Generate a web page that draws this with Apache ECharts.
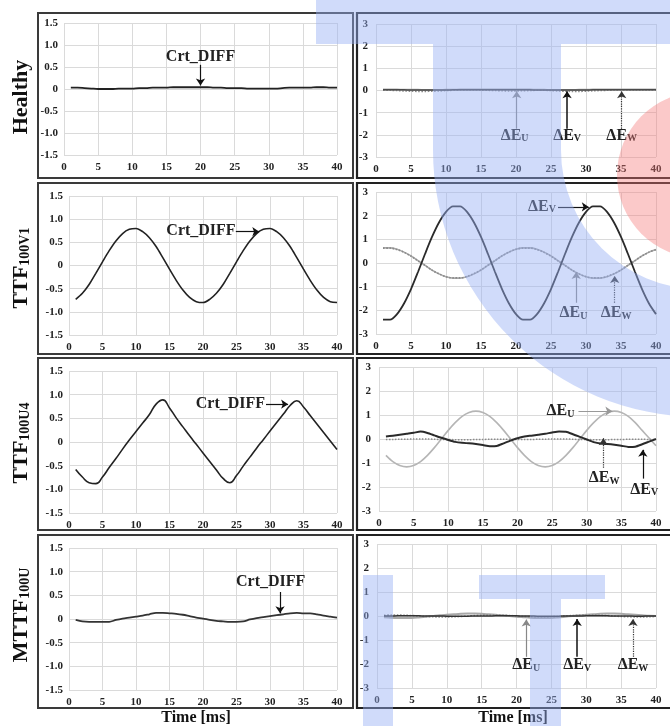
<!DOCTYPE html>
<html><head><meta charset="utf-8">
<script src="https://cdn.jsdelivr.net/npm/echarts@6/dist/echarts.min.js"></script>
<style>html,body{margin:0;padding:0;background:#fff}#c{width:670px;height:726px}</style>
</head><body><div id="c"></div>
<script>
// ---------- DATA ----------
const t = [1,2,3,4,5,6,7,8,9,10,11,12,13,14,15,16,17,18,19,20,21,22,23,24,25,26,27,28,29,30,31,32,33,34,35,36,37,38,39,40];
const xTicks = [0,5,10,15,20,25,30,35,40];
const rowNames = ['Healthy', 'TTF|100V1', 'TTF|100U4', 'MTTF|100U'];

// Healthy
const healthyDiff = [0.03,0.03,0.02,0.01,0.00,0.00,0.00,0.01,0.01,0.01,0.02,0.02,0.03,0.03,0.03,0.04,0.04,0.04,0.04,0.04,0.04,0.03,0.03,0.02,0.02,0.02,0.01,0.01,0.01,0.01,0.01,0.02,0.03,0.03,0.03,0.03,0.04,0.04,0.03,0.03];
const healthyU = [0.04,0.04,0.04,0.03,0.03,0.03,0.02,0.02,0.02,0.03,0.03,0.04,0.04,0.05,0.05,0.05,0.05,0.05,0.05,0.04,0.04,0.04,0.03,0.03,0.02,0.02,0.02,0.02,0.03,0.03,0.04,0.04,0.05,0.05,0.05,0.05,0.05,0.05,0.04,0.04];
const healthyV = [0.03,0.03,0.03,0.03,0.02,0.02,0.02,0.02,0.02,0.02,0.03,0.03,0.03,0.03,0.03,0.03,0.03,0.03,0.03,0.03,0.03,0.03,0.02,0.02,0.02,0.02,0.02,0.02,0.02,0.02,0.03,0.03,0.03,0.03,0.03,0.03,0.03,0.03,0.03,0.03];
const healthyW = [0.02,0.01,0.00,-0.02,-0.03,-0.04,-0.04,-0.03,-0.02,0.00,0.01,0.02,0.03,0.03,0.02,0.01,0.00,-0.01,-0.02,-0.02,-0.01,0.00,0.01,0.01,0.00,-0.02,-0.03,-0.04,-0.04,-0.03,-0.01,0.00,0.01,0.02,0.02,0.02,0.02,0.02,0.02,0.02];

// TTF 100V1
const v1Diff = [-0.73,-0.60,-0.41,-0.17,0.08,0.32,0.53,0.69,0.78,0.80,0.73,0.60,0.41,0.17,-0.08,-0.32,-0.53,-0.69,-0.78,-0.80,-0.73,-0.60,-0.41,-0.17,0.08,0.32,0.53,0.69,0.78,0.80,0.73,0.60,0.41,0.17,-0.08,-0.32,-0.53,-0.69,-0.78,-0.80];
const v1U = [0.64,0.64,0.58,0.46,0.30,0.10,-0.10,-0.30,-0.46,-0.58,-0.64,-0.64,-0.58,-0.46,-0.30,-0.10,0.10,0.30,0.46,0.58,0.64,0.64,0.58,0.46,0.30,0.10,-0.10,-0.30,-0.46,-0.58,-0.64,-0.64,-0.58,-0.46,-0.30,-0.10,0.10,0.30,0.46,0.57];
const v1V = [-2.39,-2.39,-2.16,-1.71,-1.10,-0.38,0.38,1.10,1.71,2.16,2.39,2.39,2.16,1.71,1.10,0.38,-0.38,-1.10,-1.71,-2.16,-2.39,-2.39,-2.16,-1.71,-1.10,-0.38,0.38,1.10,1.71,2.16,2.39,2.39,2.16,1.71,1.10,0.38,-0.38,-1.10,-1.71,-2.16];
const v1W = [0.63,0.63,0.57,0.45,0.29,0.09,-0.10,-0.30,-0.46,-0.58,-0.63,-0.63,-0.57,-0.45,-0.29,-0.09,0.10,0.30,0.46,0.58,0.63,0.63,0.57,0.45,0.29,0.09,-0.10,-0.30,-0.46,-0.58,-0.63,-0.63,-0.57,-0.45,-0.29,-0.09,0.10,0.30,0.46,0.56];

// TTF 100U4
const u4Diff = [-0.58,-0.74,-0.86,-0.88,-0.74,-0.54,-0.35,-0.15,0.04,0.22,0.40,0.58,0.80,0.89,0.72,0.51,0.32,0.13,-0.05,-0.23,-0.41,-0.59,-0.77,-0.86,-0.71,-0.51,-0.32,-0.13,0.05,0.23,0.41,0.59,0.77,0.87,0.74,0.56,0.38,0.20,0.02,-0.16];
const u4U = [-0.68,-0.94,-1.10,-1.16,-1.10,-0.94,-0.68,-0.36,0.00,0.36,0.68,0.94,1.10,1.16,1.10,0.94,0.68,0.36,0.00,-0.36,-0.68,-0.94,-1.10,-1.16,-1.10,-0.94,-0.68,-0.36,0.00,0.36,0.68,0.94,1.10,1.16,1.10,0.94,0.68,0.36,0.04,-0.28];
const u4V = [0.10,0.14,0.18,0.22,0.26,0.31,0.25,0.15,0.05,-0.04,-0.12,-0.16,-0.18,-0.21,-0.25,-0.30,-0.29,-0.18,-0.07,0.03,0.10,0.14,0.18,0.22,0.27,0.31,0.30,0.20,0.09,-0.02,-0.13,-0.19,-0.21,-0.24,-0.28,-0.33,-0.32,-0.22,-0.11,0.00];
const u4W = [-0.02,-0.02,-0.01,-0.01,0.00,0.00,0.00,-0.01,-0.02,-0.02,-0.03,-0.03,-0.03,-0.02,-0.02,-0.01,-0.01,-0.01,-0.02,-0.02,-0.02,-0.02,-0.01,-0.01,0.00,0.00,0.00,-0.01,-0.02,-0.02,-0.03,-0.03,-0.03,-0.02,-0.02,-0.01,-0.01,-0.01,-0.02,-0.02];

// MTTF 100U
const mDiff = [-0.02,-0.05,-0.06,-0.06,-0.06,-0.06,-0.02,0.01,0.03,0.05,0.07,0.10,0.13,0.13,0.12,0.11,0.09,0.06,0.03,0.01,-0.02,-0.04,-0.05,-0.06,-0.06,-0.05,-0.01,0.02,0.04,0.06,0.08,0.10,0.12,0.13,0.12,0.12,0.10,0.07,0.05,0.03];
const mU = [-0.05,-0.07,-0.08,-0.08,-0.08,-0.06,-0.03,0.00,0.03,0.05,0.07,0.09,0.10,0.10,0.09,0.07,0.05,0.03,0.00,-0.03,-0.05,-0.07,-0.08,-0.08,-0.08,-0.06,-0.03,0.00,0.03,0.05,0.07,0.09,0.10,0.10,0.09,0.07,0.05,0.03,0.01,0.00];
const mV = [0.00,0.00,0.01,0.01,0.01,0.01,0.00,0.00,0.00,-0.01,-0.01,-0.01,-0.01,0.00,0.00,0.00,0.01,0.01,0.01,0.01,0.00,0.00,-0.01,-0.01,-0.01,-0.01,0.00,0.00,0.00,0.01,0.01,0.01,0.01,0.00,0.00,0.00,-0.01,-0.01,0.00,0.00];
const mW = [0.03,0.04,0.04,0.03,0.02,0.00,-0.02,-0.03,-0.04,-0.04,-0.03,-0.02,0.00,0.02,0.03,0.04,0.04,0.03,0.02,0.00,-0.02,-0.03,-0.04,-0.04,-0.03,-0.02,0.00,0.02,0.03,0.04,0.04,0.03,0.02,0.00,-0.02,-0.03,-0.04,-0.04,-0.03,-0.02];

// ---------- STYLE / LAYOUT ----------
const FONT = "'Liberation Serif','Times New Roman',serif";
const pairs = (ys) => ys.map((y, i) => [t[i], y]);

const grids = [
  {left: 64,  top: 23,  width: 273, height: 132},
  {left: 376, top: 24,  width: 280, height: 133},
  {left: 69,  top: 196, width: 268, height: 139},
  {left: 376, top: 192, width: 280, height: 142},
  {left: 69,  top: 371, width: 268, height: 142},
  {left: 379, top: 367, width: 277, height: 144},
  {left: 69,  top: 548, width: 268, height: 142},
  {left: 377, top: 544, width: 279, height: 144}
];

const axisLabelStyle = {fontFamily: FONT, fontWeight: 'bold', fontSize: 11, color: '#222'};
const xAxes = grids.map((g, i) => ({
  gridIndex: i, type: 'value', min: 0, max: 40, interval: 5,
  axisLine: {show: false}, axisTick: {show: false},
  axisLabel: Object.assign({margin: 7}, axisLabelStyle),
  splitLine: {show: true, lineStyle: {color: '#dadada', width: 1}}
}));
const yAxes = grids.map((g, i) => {
  const right = i % 2 === 1;
  return {
    gridIndex: i, type: 'value',
    min: right ? -3 : -1.5, max: right ? 3 : 1.5, interval: right ? 1 : 0.5,
    axisLine: {show: false}, axisTick: {show: false},
    axisLabel: Object.assign({margin: right ? 8 : 6,
      formatter: v => right ? String(v) : (v === 0 ? '0' : v.toFixed(1))}, axisLabelStyle),
    splitLine: {show: true, lineStyle: {color: '#dadada', width: 1}}
  };
});

const SUBRICH = {
  m: {fontFamily: FONT, fontWeight: 'bold', fontSize: 16, color: '#222'},
  s: {fontFamily: FONT, fontWeight: 'bold', fontSize: 10, color: '#222', verticalAlign: 'bottom', lineHeight: 6}
};
function textMark(x, y, txt) {
  return {coord: [x, y], symbol: 'rect', symbolSize: 1, itemStyle: {color: 'rgba(0,0,0,0)'},
    label: {show: true, position: 'inside', formatter: txt, rich: SUBRICH,
      fontFamily: FONT, fontWeight: 'bold', fontSize: 16, color: '#222'}};
}
function arrow(x1, y1, x2, y2, color, type, width) {
  return [
    {coord: [x1, y1], symbol: 'none', lineStyle: {color: color, type: type || 'solid', width: width || 1.2}},
    {coord: [x2, y2], symbol: 'arrow', symbolSize: 7}
  ];
}
const DU = '{m|ΔE}{s|U}', DV = '{m|ΔE}{s|V}', DW = '{m|ΔE}{s|W}';

const annotations = [
  {texts: [[20, 0.73, 'Crt_DIFF']], arrows: [[20, 0.55, 20, 0.08, '#111']]},
  {texts: [[19.8, -2.03, DU], [27.3, -2.03, DV], [35.1, -2.03, DW]],
   arrows: [[20.1, -1.72, 20.1, -0.03, '#888'], [27.3, -1.72, 27.3, -0.03, '#111', 'solid', 1.5], [35.1, -1.72, 35.1, -0.03, '#333', 'dotted']]},
  {texts: [[19.7, 0.75, 'Crt_DIFF']], arrows: [[24.9, 0.73, 28.4, 0.73, '#111']]},
  {texts: [[23.7, 2.37, DV], [28.2, -2.11, DU], [34.3, -2.11, DW]],
   arrows: [[26.0, 2.37, 30.4, 2.37, '#111'], [28.6, -1.68, 28.6, -0.38, '#888'], [34.1, -1.68, 34.1, -0.55, '#333', 'dotted']]},
  {texts: [[24.1, 0.81, 'Crt_DIFF']], arrows: [[29.4, 0.8, 32.7, 0.8, '#111']]},
  {texts: [[26.2, 1.16, DU], [32.5, -1.63, DW], [38.3, -2.12, DV]],
   arrows: [[28.8, 1.16, 33.7, 1.16, '#999'], [32.4, -1.2, 32.4, 0.03, '#333', 'dotted'], [38.1, -1.65, 38.1, -0.45, '#111']]},
  {texts: [[30.1, 0.78, 'Crt_DIFF']], arrows: [[31.5, 0.57, 31.5, 0.12, '#111']]},
  {texts: [[21.4, -2.05, DU], [28.7, -2.05, DV], [36.7, -2.05, DW]],
   arrows: [[21.4, -1.7, 21.4, -0.15, '#888'], [28.7, -1.7, 28.7, -0.12, '#111', 'solid', 1.5], [36.7, -1.7, 36.7, -0.12, '#333', 'dotted']]}
];

function withMarks(s, i) {
  const a = annotations[i];
  s.markPoint = {silent: true, animation: false, data: a.texts.map(x => textMark(x[0], x[1], x[2]))};
  s.markLine = {silent: true, animation: false, label: {show: false},
    data: a.arrows.map(x => arrow(x[0], x[1], x[2], x[3], x[4], x[5], x[6]))};
  return s;
}

function line(i, data, color, width, type, z, smooth) {
  return {type: 'line', xAxisIndex: i, yAxisIndex: i, data: pairs(data), showSymbol: false,
    smooth: smooth === undefined ? 0.3 : smooth, z: z || 2, lineStyle: {color: color, width: width, type: type || 'solid'}};
}
const DIFF_C = '#222', U_C = '#a9a9a9', V_C = '#2a2a2a', W_C = '#8a8a8a';
const series = [
  withMarks(line(0, healthyDiff, DIFF_C, 1.8), 0),
  line(1, healthyU, U_C, 2), withMarks(line(1, healthyW, W_C, 1.6, 'dotted', 3), 1), line(1, healthyV, '#4a4a4a', 1.5, 'solid', 4),
  withMarks(line(2, v1Diff, DIFF_C, 1.6), 2),
  line(3, v1U, U_C, 1.6), line(3, v1W, W_C, 1.6, 'dotted', 3), withMarks(line(3, v1V, V_C, 1.8, 'solid', 4), 3),
  withMarks(line(4, u4Diff, DIFF_C, 1.6, 'solid', 2, 0.5), 4),
  line(5, u4U, '#b5b5b5', 1.6), line(5, u4W, W_C, 1.5, 'dotted', 3), withMarks(line(5, u4V, V_C, 2, 'solid', 4, 0.2), 5),
  withMarks(line(6, mDiff, '#333', 1.8), 6),
  line(7, mU, U_C, 2), withMarks(line(7, mW, W_C, 1.6, 'dotted', 3), 7), line(7, mV, '#333', 1.5, 'solid', 4)
];

// frames
const rowsY = [[13, 178], [183, 354], [358, 530], [535, 708]];
const graphics = [];
rowsY.forEach((r, k) => {
  graphics.push({type: 'rect', z: 1, shape: {x: 38, y: r[0], width: 315, height: r[1] - r[0]},
    style: {fill: 'none', stroke: '#3a3a3a', lineWidth: 2}});
  graphics.push({type: 'rect', z: 1, shape: {x: 357, y: r[0], width: 320, height: r[1] - r[0]},
    style: {fill: 'none', stroke: '#222', lineWidth: 2.2}});
});
// row labels
const rowCenters = [97, 268, 443, 615];
rowNames.forEach((n, k) => {
  const parts = n.split('|');
  const txt = parts.length > 1 ? '{b|' + parts[0] + '}{s|' + parts[1] + '}' : '{b|' + parts[0] + '}';
  graphics.push({type: 'text', z: 5, x: 21, y: rowCenters[k], rotation: Math.PI / 2,
    style: {text: txt, align: 'center', verticalAlign: 'middle',
      rich: {b: {fontFamily: FONT, fontWeight: 'bold', fontSize: 22, fill: '#111'},
             s: {fontFamily: FONT, fontWeight: 'bold', fontSize: 14, fill: '#111', verticalAlign: 'bottom', lineHeight: 8}}}});
});
// x titles
[196, 513].forEach(cx => graphics.push({type: 'text', z: 5, x: cx, y: 718,
  style: {text: 'Time [ms]', align: 'center', verticalAlign: 'middle', font: "bold 16px " + FONT, fill: '#111'}}));

// watermark overlay
const BLUE = 'rgb(150,175,245)', BO = 0.45;
[[316, 0, 354, 44], [433, 44, 128, 106], [363, 575, 30, 151], [479, 575, 126, 24], [530, 599, 31, 127]].forEach(r =>
  graphics.push({type: 'rect', z: 50, silent: true, shape: {x: r[0], y: r[1], width: r[2], height: r[3]}, style: {fill: BLUE, opacity: BO}}));
graphics.push({type: 'sector', z: 50, silent: true,
  shape: {cx: 700, cy: 150, r: 267, r0: 139, startAngle: Math.PI / 2, endAngle: Math.PI, clockwise: true},
  style: {fill: BLUE, opacity: BO}});
graphics.push({type: 'circle', z: 50, silent: true, shape: {cx: 700, cy: 175, r: 83}, style: {fill: 'rgb(245,120,120)', opacity: 0.4}});

const chart = echarts.init(document.getElementById('c'), null, {renderer: 'canvas'});
chart.setOption({
  animation: false,
  backgroundColor: '#fff',
  grid: grids,
  xAxis: xAxes,
  yAxis: yAxes,
  series: series,
  graphic: graphics
});
</script></body></html>
